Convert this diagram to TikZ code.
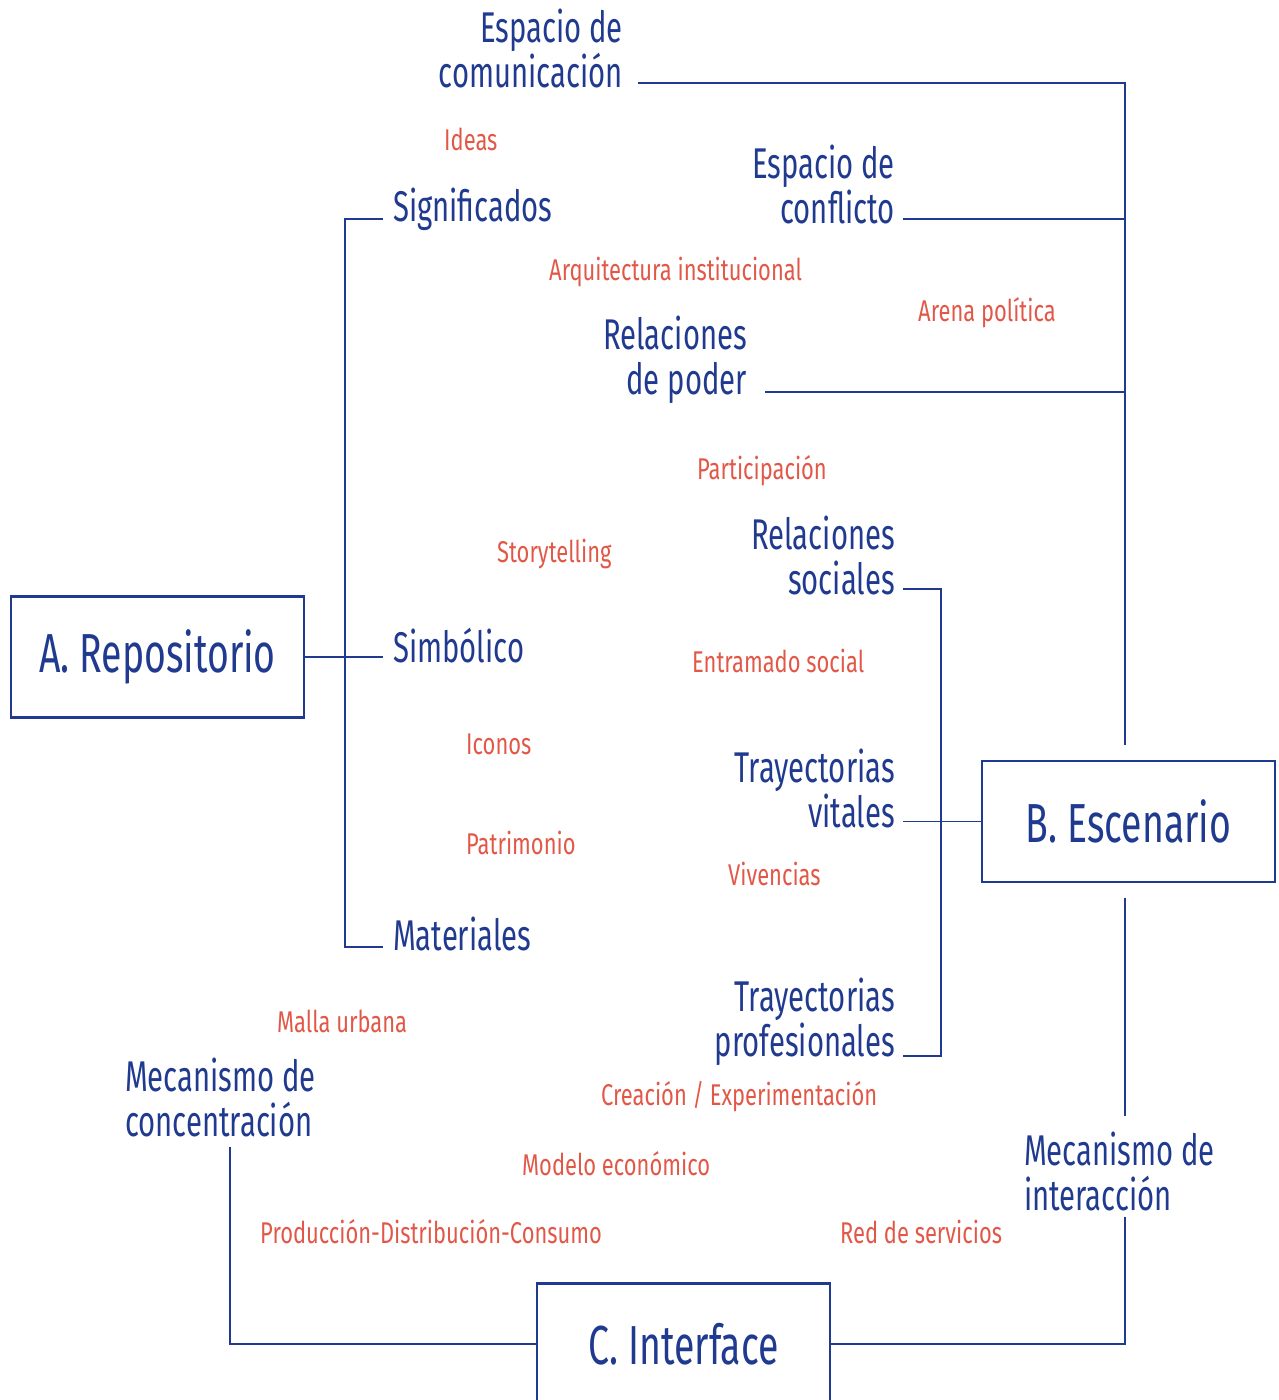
\documentclass[tikz,border=0pt]{standalone}
\usepackage{fontspec}
\setmainfont[FakeStretch=0.68]{Fira Sans}
\newfontfamily\finafont[FakeStretch=0.73]{Fira Sans}
\definecolor{azul}{RGB}{32,58,143}
\definecolor{rojo}{RGB}{226,88,72}

\begin{document}
\begin{tikzpicture}[x=1pt,y=-1pt,
  concepto/.style={azul,font=\fontsize{43}{45}\selectfont,inner sep=0pt,align=right},
  idea/.style={rojo,font=\finafont\fontsize{30}{32}\selectfont,inner sep=0pt,anchor=west},
  caja/.style={draw=azul,line width=2.6pt,text=azul,font=\fontsize{55}{60}\selectfont,minimum width=293pt,minimum height=121pt,inner sep=0pt},
  enlace/.style={azul,line width=1.8pt}]
\useasboundingbox (0,0) rectangle (1279,1400);
\node[caja] (rep) at (157.5,657) {A. Repositorio};
\node[caja] (esc) at (1128.5,821.5) {B. Escenario};
\node[caja] (int) at (683.5,1344) {C. Interface};
\node[concepto,anchor=east] (com) at (623,48) {Espacio de\\comunicación};
\node[concepto,anchor=east] (conf) at (895,184) {Espacio de\\conflicto};
\node[concepto,anchor=east] (pod) at (747,360) {Relaciones\\de poder};
\node[concepto,anchor=west] (sig) at (393,209) {Significados};
\node[concepto,anchor=west] (sim) at (393,646) {Simbólico};
\node[concepto,anchor=west] (mat) at (393,934) {Materiales};
\node[concepto,anchor=east] (soc) at (895,555) {Relaciones\\sociales};
\node[concepto,anchor=east] (vit) at (895,788) {Trayectorias\\vitales};
\node[concepto,anchor=east] (pro) at (895,1022) {Trayectorias\\profesionales};
\node[concepto,anchor=west,align=left] (con) at (125,1097) {Mecanismo de\\concentración};
\node[concepto,anchor=west,align=left] (inte) at (1024,1171) {Mecanismo de\\interacción};
\node[idea] (ideas) at (444,139) {Ideas};
\node[idea] (arq) at (549,272) {Arquitectura institucional};
\node[idea] (are) at (918,313) {Arena política};
\node[idea] (par) at (697,471) {Participación};
\node[idea] (sto) at (497,554) {Storytelling};
\node[idea] (ent) at (692,661) {Entramado social};
\node[idea] (ico) at (466,744) {Iconos};
\node[idea] (pat) at (466,843) {Patrimonio};
\node[idea] (viv) at (728,874) {Vivencias};
\node[idea] (mal) at (277,1021) {Malla urbana};
\node[idea] (cre) at (601,1097) {Creación / Experimentación};
\node[idea] (mod) at (522,1164) {Modelo económico};
\node[idea] (prod) at (260,1232) {Producción-Distribución-Consumo};
\node[idea] (red) at (840,1232) {Red de servicios};
\coordinate (tcom) at (1125,83);
\coordinate (tconf) at (1125,219);
\coordinate (tpod) at (1125,392);
\coordinate (lsig) at (345,219);
\coordinate (lmat) at (345,947);
\coordinate (rsoc) at (941,589);
\coordinate (rpro) at (941,1056);
\coordinate (ccon) at (230,1344);
\coordinate (cint) at (1125,1344);
\draw[enlace,shorten <=15pt,shorten >=15pt] (com.east |- tcom) -- (tcom) -- (tcom |- esc.north);
\draw[enlace,shorten <=8pt] (conf.east |- tconf) -- (tconf);
\draw[enlace,shorten <=18pt] (pod.east |- tpod) -- (tpod);
\draw[enlace,shorten <=10pt,shorten >=10pt] (sig.west |- lsig) -- (lsig) -- (lmat) -- (mat.west |- lmat);
\draw[enlace,shorten >=10pt] (rep.east) -- (sim.west |- rep.east);
\draw[enlace,shorten <=8pt,shorten >=8pt] (soc.east |- rsoc) -- (rsoc) -- (rpro) -- (pro.east |- rpro);
\draw[enlace,shorten <=8pt] (vit.east |- esc.west) -- (esc.west);
\draw[enlace,shorten <=10pt] (con.south -| ccon) -- (ccon) -- (int.west |- ccon);
\draw[enlace,shorten <=15pt,shorten >=15pt] (esc.south -| cint) -- (inte.north -| cint);
\draw[enlace,shorten <=6pt] (inte.south -| cint) -- (cint) -- (int.east |- cint);
\end{tikzpicture}
\end{document}
